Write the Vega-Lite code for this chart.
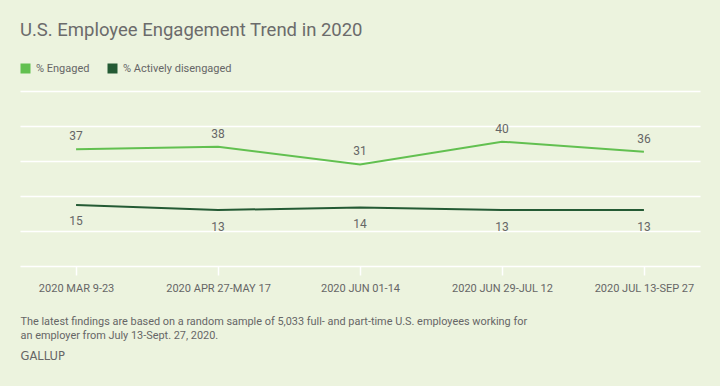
{
  "$schema": "https://vega.github.io/schema/vega-lite/v6.json",
  "width": 680,
  "height": 175,
  "autosize": {"type": "none"},
  "padding": {"left": 20, "right": 20, "top": 91, "bottom": 120},
  "background": "#ecf3de",
  "title": {
    "text": "U.S. Employee Engagement Trend in 2020",
    "anchor": "start",
    "frame": "group",
    "font": "Roboto",
    "fontSize": 18.5,
    "fontWeight": "normal",
    "color": "#6b6b6b",
    "offset": 24
  },
  "config": {
    "view": {"stroke": null},
    "font": "Roboto"
  },
  "data": {
    "values": [
      {"period": "2020 MAR 9-23", "series": "% Engaged", "value": 37},
      {"period": "2020 APR 27-MAY 17", "series": "% Engaged", "value": 38},
      {"period": "2020 JUN 01-14", "series": "% Engaged", "value": 31},
      {"period": "2020 JUN 29-JUL 12", "series": "% Engaged", "value": 40},
      {"period": "2020 JUL 13-SEP 27", "series": "% Engaged", "value": 36},
      {"period": "2020 MAR 9-23", "series": "% Actively disengaged", "value": 15},
      {"period": "2020 APR 27-MAY 17", "series": "% Actively disengaged", "value": 13},
      {"period": "2020 JUN 01-14", "series": "% Actively disengaged", "value": 14},
      {"period": "2020 JUN 29-JUL 12", "series": "% Actively disengaged", "value": 13},
      {"period": "2020 JUL 13-SEP 27", "series": "% Actively disengaged", "value": 13}
    ]
  },
  "encoding": {
    "x": {
      "field": "period",
      "type": "ordinal",
      "sort": null,
      "scale": {"type": "point", "padding": 0.395},
      "axis": {
        "orient": "bottom",
        "title": [
          "The latest findings are based on a random sample of 5,033 full- and part-time U.S. employees working for",
          "an employer from July 13-Sept. 27, 2020."
        ],
        "titleX": 0,
        "titleY": 58,
        "titleAlign": "left",
        "titleAnchor": "start",
        "titleBaseline": "alphabetic",
        "titleLineHeight": 14.5,
        "titleFont": "Roboto",
        "titleFontSize": 10.9,
        "titleFontWeight": "normal",
        "titleColor": "#666666",
        "labelAngle": 0,
        "labelFont": "Roboto",
        "labelFontSize": 11,
        "labelColor": "#666666",
        "labelBaseline": "alphabetic",
        "labelPadding": 16,
        "tickColor": "white",
        "tickSize": 9,
        "tickWidth": 1.5,
        "domainColor": "white",
        "domainWidth": 1.5,
        "grid": false
      }
    },
    "y": {
      "field": "value",
      "type": "quantitative",
      "scale": {"domain": [-9.1, 60], "nice": false, "zero": false},
      "axis": {
        "orient": "left",
        "title": "GALLUP",
        "titleAngle": 0,
        "titleX": 0,
        "titleY": 268,
        "titleAlign": "left",
        "titleBaseline": "alphabetic",
        "titleFont": "DejaVu Sans",
        "titleFontSize": 11.5,
        "titleFontWeight": "normal",
        "titleColor": "#666666",
        "labels": false,
        "ticks": false,
        "domain": false,
        "grid": true,
        "gridColor": "white",
        "gridWidth": 1.5,
        "values": [60, 46.18, 32.36, 18.54, 4.72]
      }
    }
  },
  "layer": [
    {
      "mark": {"type": "line", "strokeWidth": 2},
      "encoding": {
        "color": {
          "field": "series",
          "type": "nominal",
          "sort": ["% Engaged", "% Actively disengaged"],
          "scale": {"domain": ["% Engaged", "% Actively disengaged"], "range": ["#62c050", "#245a34"]},
          "legend": {
            "title": null,
            "orient": "none",
            "legendX": 0,
            "legendY": -28,
            "direction": "horizontal",
            "symbolType": "square",
            "symbolSize": 25,
            "symbolStrokeWidth": 5,
            "labelFont": "Roboto",
            "labelFontSize": 11,
            "labelColor": "#666666",
            "labelOffset": 5,
            "columnPadding": 10
          }
        }
      }
    },
    {
      "transform": [{"filter": "datum.series === '% Engaged'"}],
      "mark": {"type": "text", "baseline": "alphabetic", "dy": -9, "fontSize": 12, "color": "#666666", "font": "Roboto"},
      "encoding": {"text": {"field": "value", "type": "quantitative"}}
    },
    {
      "transform": [{"filter": "datum.series === '% Actively disengaged'"}],
      "mark": {"type": "text", "baseline": "alphabetic", "dy": 20.5, "fontSize": 12, "color": "#666666", "font": "Roboto"},
      "encoding": {"text": {"field": "value", "type": "quantitative"}}
    }
  ]
}
